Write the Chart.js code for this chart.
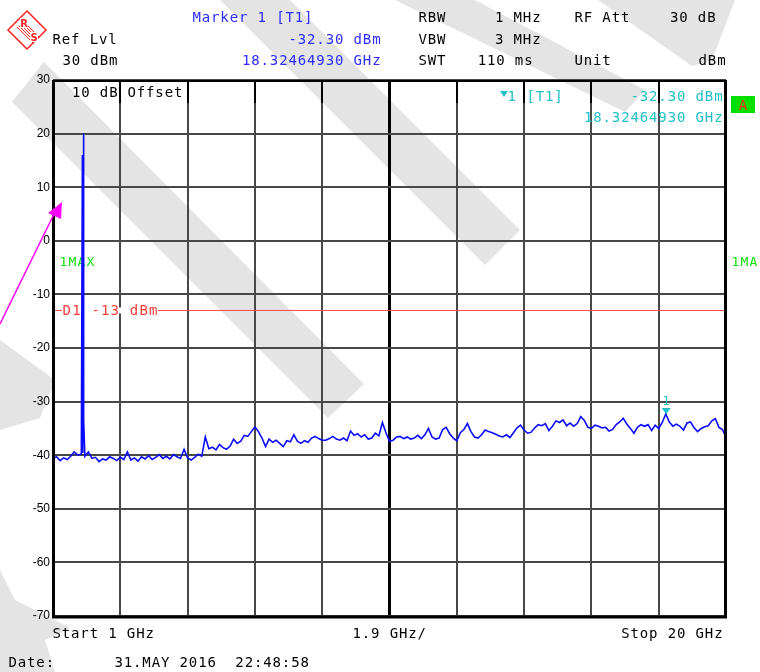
<!DOCTYPE html>
<html>
<head>
<meta charset="utf-8">
<script src="https://cdn.jsdelivr.net/npm/chart.js@4.4.1/dist/chart.umd.min.js"></script>
<style>
  html, body { margin: 0; padding: 0; background: #fff; }
  #wrap { width: 760px; height: 672px; }
</style>
</head>
<body>
<div id="wrap"><canvas id="c" width="760" height="672"></canvas></div>
<script>
// sweep settings
const startGHz = 1;
const stopGHz = 20;
const stepGHz = 0.1;

// max-hold trace, one reading every 100 MHz from 1 GHz to 20 GHz (dBm)
const levels = [
  -40.6, -40.3, -41.0, -40.5, -40.8, -40.2, -39.4, -40.0, -39.8, -40.2,
  -39.4, -40.6, -40.4, -41.2, -40.7, -40.9, -40.3, -40.6, -41.0, -40.4,
  -40.8, -39.4, -40.9, -40.5, -41.1, -40.3, -40.7, -40.1, -40.8, -40.4,
  -39.9, -40.6, -40.2, -40.7, -39.9, -40.3, -40.6, -38.9, -40.5, -40.9,
  -40.4, -39.8, -40.2, -36.6, -38.8, -38.5, -39.0, -38.0, -38.6, -38.9,
  -38.3, -37.0, -37.8, -37.4, -36.3, -36.5, -35.6, -34.7, -35.6, -36.8,
  -38.4, -37.0, -37.6, -37.2, -37.8, -38.4, -37.3, -37.5, -36.2, -37.4,
  -37.8, -37.3, -37.6, -36.8, -36.5, -36.9, -37.2, -37.2, -36.9, -36.5,
  -37.0, -37.2, -36.8, -37.3, -35.5, -36.3, -36.0, -36.6, -36.2, -37.0,
  -36.8, -35.9, -36.4, -33.9, -35.8, -37.4, -37.2, -36.6, -36.5, -36.9,
  -36.6, -37.0, -36.8, -36.3, -36.9, -36.2, -35.0, -36.6, -37.0, -36.8,
  -35.2, -34.8, -36.0, -36.8, -37.3, -35.8, -35.2, -34.1, -35.6, -36.6,
  -36.8, -36.2, -35.3, -35.6, -35.8, -36.1, -36.4, -36.6, -36.2, -36.7,
  -35.8, -34.9, -34.4, -35.3, -35.9, -35.7, -34.9, -34.3, -34.5, -34.1,
  -35.4, -34.6, -33.6, -33.9, -33.4, -34.5, -34.0, -34.6, -34.1, -32.8,
  -33.5, -34.8, -35.0, -34.4, -34.6, -34.9, -34.8, -35.5, -35.2, -34.3,
  -33.8, -33.1, -34.2, -35.0, -35.9, -34.8, -34.3, -34.6, -34.3, -35.4,
  -34.4, -35.0, -33.9, -32.3, -33.8, -34.6, -34.2, -34.6, -35.3, -34.0,
  -33.8, -34.9, -35.6, -35.0, -34.7, -34.5, -33.6, -33.2, -34.8, -35.2,
  -36.7
];

// carrier spike near 1.85 GHz
const spikeFreqs = [1.83, 1.84, 1.85, 1.86, 1.87];
const spikeLevels = [16, -39.6, 16, 20, -33.4];

const markerFreq = [18.3246493];
const markerLevel = [-32.3];
const displayLine = [-13];
const yMin = -70;
const yMax = 30;

const xGrid = [];
for (let i = 0; i <= 10; i++) xGrid.push(startGHz + i * (stopGHz - startGHz) / 10);

const trace = levels.map((v, i) => ({x: startGHz + i * stepGHz, y: v}))
  .concat(spikeFreqs.map((f, i) => ({x: f, y: spikeLevels[i]})))
  .sort((a, b) => a.x - b.x);

const MONO = 'DejaVu Sans Mono';

function mono(ctx, text, x, y, color, align, pitch, size) {
  pitch = pitch || 9.3;
  ctx.font = (size || 14) + 'px "' + MONO + '"';
  ctx.fillStyle = color;
  ctx.textAlign = 'center';
  ctx.textBaseline = 'alphabetic';
  const w = text.length * pitch;
  const x0 = align === 'right' ? x - w : align === 'center' ? x - w / 2 : x;
  [...text].forEach((ch, i) => ctx.fillText(ch, x0 + pitch * (i + 0.5), y));
}

function poly(ctx, pts, color) {
  ctx.beginPath();
  pts.forEach((p, i) => i ? ctx.lineTo(p[0], p[1]) : ctx.moveTo(p[0], p[1]));
  ctx.closePath();
  ctx.fillStyle = color;
  ctx.fill();
}

const screenPlugin = {
  id: 'screen',
  beforeDraw(chart) {
    const {ctx} = chart;
    ctx.save();
    ctx.fillStyle = '#fff';
    ctx.fillRect(0, 0, chart.width, chart.height);
    // watermark stripes
    const g = '#e4e4e4';
    poly(ctx, [[44, 62], [12, 102], [328, 418], [364, 384]], g);
    poly(ctx, [[220, 0], [290, 0], [520, 230], [485, 265]], g);
    poly(ctx, [[395, 0], [475, 0], [645, 90], [625, 112]], g);
    poly(ctx, [[598, 0], [735, 0], [712, 60], [692, 66]], g);
    poly(ctx, [[0, 340], [0, 430], [40, 418], [55, 380]], g);
    poly(ctx, [[0, 570], [0, 672], [55, 672], [45, 640], [70, 628], [15, 600]], g);
    ctx.restore();
  },
  beforeDatasetsDraw(chart) {
    const {ctx} = chart;
    ctx.save();
    mono(ctx, '1MAX', 59, 266, '#10e010', 'left', 9, 13);
    ctx.restore();
  },
  afterDatasetDraw(chart, args) {
    if (args.index !== 1) return;
    const {ctx} = chart;
    const y = chart.scales.y.getPixelForValue(displayLine[0]);
    ctx.save();
    ctx.fillStyle = '#fff';
    ctx.fillRect(62, y - 3, 96, 6);
    mono(ctx, 'D1 -13 dBm', 62, y + 5, '#ff3c3c', 'left', 9.6, 14);
    ctx.restore();
  },
  afterDatasetsDraw(chart) {
    const {ctx} = chart;
    const px = chart.scales.x.getPixelForValue(markerFreq[0]);
    const py = chart.scales.y.getPixelForValue(markerLevel[0]);
    ctx.save();
    ctx.fillStyle = '#20c0c8';
    ctx.beginPath();
    ctx.moveTo(px - 5, py - 6);
    ctx.lineTo(px + 4, py - 6);
    ctx.lineTo(px - 0.5, py);
    ctx.closePath();
    ctx.fill();
    mono(ctx, '1', px - 0.5, py - 9, '#20c0c8', 'center', 8, 12);
    ctx.restore();
  },
  afterDraw(chart) {
    const {ctx, chartArea: a} = chart;
    const xs = chart.scales.x;
    ctx.save();
    // frame
    ctx.strokeStyle = '#000';
    ctx.lineWidth = 3;
    ctx.beginPath();
    ctx.moveTo(a.left + 0.5, a.top);
    ctx.lineTo(a.left + 0.5, a.bottom + 1);
    ctx.lineTo(a.right - 0.5, a.bottom + 1);
    ctx.lineTo(a.right - 0.5, a.top);
    ctx.stroke();
    ctx.lineWidth = 2;
    ctx.beginPath();
    ctx.moveTo(a.left, a.top + 1);
    ctx.lineTo(a.right, a.top + 1);
    ctx.stroke();
    // heavier grid segments in the top text row
    xGrid.forEach(v => {
      const x = Math.round(xs.getPixelForValue(v));
      ctx.beginPath();
      ctx.moveTo(x, a.top);
      ctx.lineTo(x, a.top + 23);
      ctx.stroke();
    });

    // header
    mono(ctx, 'Ref Lvl', 52, 44, '#000', 'left');
    mono(ctx, '30 dBm', 62, 65, '#000', 'left');
    const blue = '#2c2cff';
    mono(ctx, 'Marker 1 [T1]', 192, 22, blue, 'left');
    mono(ctx, '-32.30 dBm', 381, 44, blue, 'right');
    mono(ctx, '18.32464930 GHz', 381, 65, blue, 'right');
    mono(ctx, 'RBW', 418, 22, '#000', 'left');
    mono(ctx, '1 MHz', 541, 22, '#000', 'right');
    mono(ctx, 'RF Att', 574, 22, '#000', 'left');
    mono(ctx, '30 dB', 716, 22, '#000', 'right');
    mono(ctx, 'VBW', 418, 44, '#000', 'left');
    mono(ctx, '3 MHz', 541, 44, '#000', 'right');
    mono(ctx, 'SWT', 418, 65, '#000', 'left');
    mono(ctx, '110 ms', 533, 65, '#000', 'right');
    mono(ctx, 'Unit', 574, 65, '#000', 'left');
    mono(ctx, 'dBm', 726, 65, '#000', 'right');

    // top row inside the grid
    mono(ctx, '10 dB', 118, 97, '#000', 'right');
    mono(ctx, 'Offset', 127, 97, '#000', 'left');
    const cyan = '#20c0c8';
    ctx.fillStyle = cyan;
    ctx.beginPath();
    ctx.moveTo(500, 91);
    ctx.lineTo(508, 91);
    ctx.lineTo(504, 97);
    ctx.closePath();
    ctx.fill();
    mono(ctx, '1', 507, 101, cyan, 'left');
    mono(ctx, '[T1]', 526, 101, cyan, 'left');
    mono(ctx, '-32.30 dBm', 723, 101, cyan, 'right');
    mono(ctx, '18.32464930 GHz', 723, 122, cyan, 'right');

    // side labels
    ctx.fillStyle = '#00e000';
    ctx.fillRect(731, 96, 24, 17);
    mono(ctx, 'A', 743, 110, '#ff2020', 'center', 9, 14);
    mono(ctx, '1MA', 731, 266, '#10e010', 'left', 9, 13);

    // bottom annotations
    mono(ctx, 'Start 1 GHz', 52, 638, '#000', 'left');
    mono(ctx, '1.9 GHz/', 352, 638, '#000', 'left');
    mono(ctx, 'Stop 20 GHz', 723, 638, '#000', 'right');
    mono(ctx, 'Date:', 8, 667, '#000', 'left');
    mono(ctx, '31.MAY 2016  22:48:58', 114, 667, '#000', 'left');

    // R&S logo
    ctx.strokeStyle = '#ff2020';
    ctx.fillStyle = '#ff2020';
    ctx.lineWidth = 1.5;
    ctx.beginPath();
    ctx.moveTo(27, 11);
    ctx.lineTo(46, 30);
    ctx.lineTo(27, 49);
    ctx.lineTo(8, 30);
    ctx.closePath();
    ctx.stroke();
    ctx.lineWidth = 1;
    for (let k = -2; k <= 2; k++) {
      ctx.beginPath();
      ctx.moveTo(20 + k * 1.5, 24 - k * 1.5);
      ctx.lineTo(36 + k * 1.5, 40 - k * 1.5);
      ctx.stroke();
    }
    ctx.font = 'bold 10px "DejaVu Sans"';
    ctx.textAlign = 'center';
    ctx.fillStyle = '#fff';
    ctx.fillRect(20, 18, 8, 10);
    ctx.fillRect(30, 32, 8, 10);
    ctx.fillStyle = '#ff2020';
    ctx.fillText('R', 24, 27);
    ctx.fillText('S', 34, 41);

    // magenta pointer
    ctx.strokeStyle = '#ff00ff';
    ctx.fillStyle = '#ff00ff';
    ctx.lineWidth = 1.5;
    ctx.beginPath();
    ctx.moveTo(0, 324);
    ctx.lineTo(55, 212);
    ctx.stroke();
    ctx.beginPath();
    ctx.moveTo(48, 213);
    ctx.lineTo(62, 202);
    ctx.lineTo(61, 219);
    ctx.closePath();
    ctx.fill();
    ctx.restore();
  }
};

new Chart(document.getElementById('c'), {
  type: 'line',
  data: {
    datasets: [
      {
        label: 'Trace 1',
        data: trace,
        borderColor: '#0a0aff',
        borderWidth: 1.6,
        pointRadius: 0,
        tension: 0,
        order: 1
      },
      {
        label: 'D1',
        data: [{x: startGHz, y: displayLine[0]}, {x: stopGHz, y: displayLine[0]}],
        borderColor: '#ff4848',
        borderWidth: 1,
        pointRadius: 0,
        order: 2
      }
    ]
  },
  options: {
    responsive: false,
    animation: false,
    devicePixelRatio: 1,
    layout: {padding: {left: 0, top: 80, right: 34, bottom: 56}},
    plugins: {legend: {display: false}, tooltip: {enabled: false}},
    scales: {
      x: {
        type: 'linear',
        min: startGHz,
        max: stopGHz,
        afterBuildTicks: s => { s.ticks = xGrid.map(v => ({value: v})); },
        ticks: {display: false},
        grid: {
          color: c => c.index === 5 ? '#000' : '#484848',
          lineWidth: c => c.index === 5 ? 3 : 2,
          drawTicks: false
        },
        border: {display: false},
        afterFit: s => { s.height = 0; }
      },
      y: {
        min: yMin,
        max: yMax,
        ticks: {stepSize: 10, padding: 3, color: '#000', font: {family: 'Liberation Sans', size: 12}},
        grid: {color: '#484848', lineWidth: 2, drawTicks: false},
        border: {display: false},
        afterFit: s => { s.width = 53; }
      }
    }
  },
  plugins: [screenPlugin]
});
</script>
</body>
</html>
